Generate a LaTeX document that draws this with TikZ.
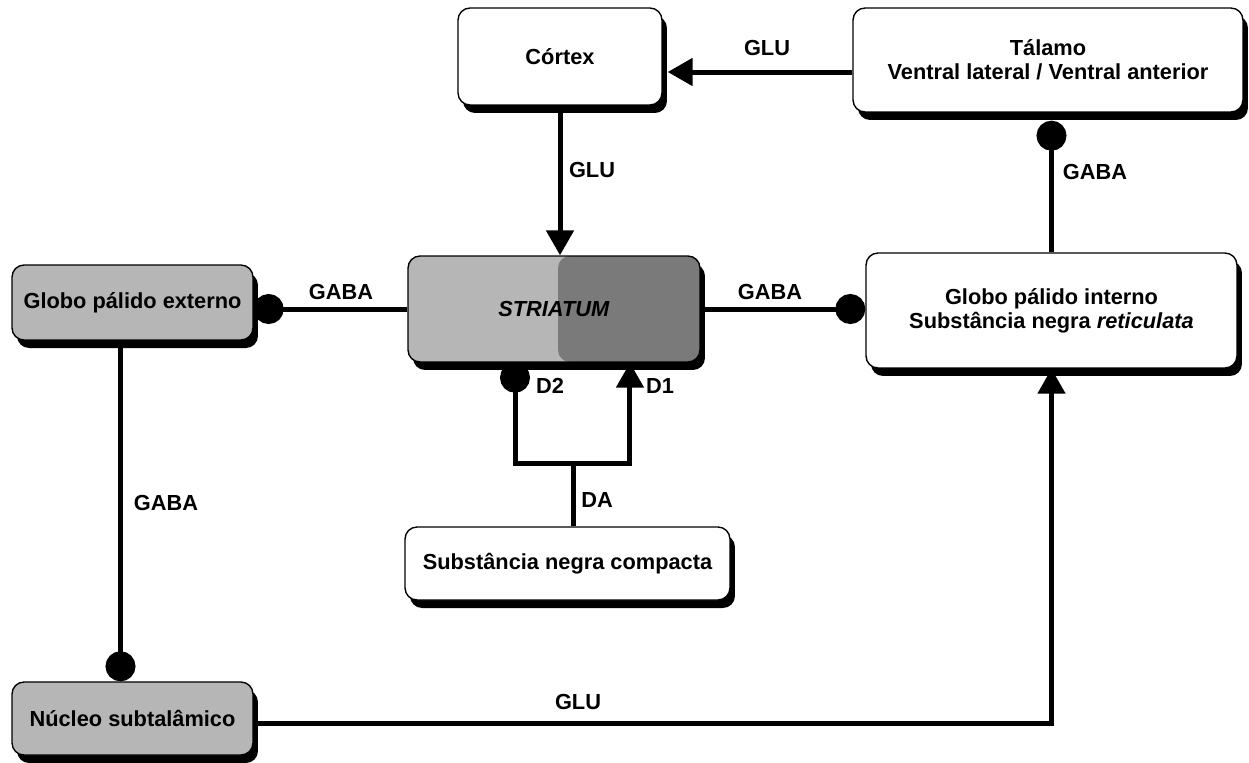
\documentclass[tikz,border=0pt]{standalone}
\usepackage{fontspec}
\setmainfont{Liberation Sans}
\usetikzlibrary{arrows.meta,shadows}
\definecolor{palegrey}{RGB}{182,182,182}
\definecolor{deepgrey}{RGB}{122,122,122}

\begin{document}
\begin{tikzpicture}[x=0.02cm, y=-0.02cm,
  font=\fontsize{12.4}{13.5}\selectfont\bfseries,
  area/.style={draw, line width=0.8pt, rounded corners=0.24cm, fill=white, align=center, inner sep=0pt,
    drop shadow={shadow xshift=0.1cm, shadow yshift=-0.16cm, opacity=1, fill=black}},
  greyarea/.style={area, fill=palegrey},
  link/.style={line width=0.1cm},
  excit/.style={link, -{Triangle[width=0.54cm, length=0.5cm]}},
  inhib/.style={link, -{Circle[length=0.6cm]}},
  lbl/.style={inner sep=0pt}]
  \useasboundingbox (0,0) rectangle (1249,762);

  % boxes
  \node[area, minimum width=4.08cm, minimum height=1.94cm] (cortex) at (560,56.5) {Córtex};
  \node[area, minimum width=7.8cm, minimum height=2.08cm] (talamo) at (1048,60) {Tálamo\\Ventral lateral / Ventral anterior};
  \node[greyarea, minimum width=4.82cm, minimum height=1.5cm] (gpe) at (132.5,302.5) {Globo pálido externo};
  \node[greyarea, minimum width=5.84cm, minimum height=2.12cm,
    path picture={\fill[deepgrey] ([xshift=0.08cm]path picture bounding box.north) rectangle (path picture bounding box.south east);}]
    (striatum) at (554,309) {\textit{STRIATUM}};
  \node[area, minimum width=7.42cm, minimum height=2.3cm] (gpi) at (1051.5,310.5) {Globo pálido interno\\Substância negra \textit{reticulata}};
  \node[area, minimum width=6.5cm, minimum height=1.46cm] (snc) at (567.5,563.5) {Substância negra compacta};
  \node[greyarea, minimum width=4.82cm, minimum height=1.46cm] (nst) at (132.5,718.5) {Núcleo subtalâmico};

  % connectors
  \coordinate (tvent) at ([yshift=-0.24cm]talamo.west);
  \coordinate (tbase) at ([yshift=-0.16cm]talamo.south);
  \coordinate (nout) at ([yshift=-0.09cm]nst.east);
  \coordinate (fork) at (573,463);
  \draw[excit] (tvent) -- ([xshift=0.1cm]cortex.east |- tvent);
  \draw[excit] (cortex.south) -- (cortex.south |- striatum.north);
  \draw[inhib] (gpi.north) -- (gpi.north |- tbase);
  \draw[inhib] (striatum.west) -- (gpe.east |- striatum.west);
  \draw[inhib] (striatum.east) -- (striatum.east -| gpi.west);
  \draw[inhib] ([xshift=-0.24cm]gpe.south) -- ([xshift=-0.24cm]nst.north);
  \draw[excit] (nout) -| (gpi.south);
  \draw[link] (snc.north -| fork) -- (fork);
  \draw[inhib] (fork) -| ([xshift=-0.78cm]striatum.south);
  \draw[excit] (fork) -| ([xshift=1.52cm]striatum.south);

  % labels
  \node[lbl] (glu-tc) at (767,48) {GLU};
  \node[lbl] (glu-cs) at (592,170) {GLU};
  \node[lbl] (gaba-it) at (1095,172) {GABA};
  \node[lbl] (gaba-se) at (341,292) {GABA};
  \node[lbl] (gaba-si) at (770,292) {GABA};
  \node[lbl] (gaba-en) at (166,503) {GABA};
  \node[lbl] (glu-ni) at (578,702) {GLU};
  \node[lbl] (da) at (597,500) {DA};
  \node[lbl] (d2) at (550,386) {D2};
  \node[lbl] (d1) at (660,386) {D1};
\end{tikzpicture}
\end{document}
